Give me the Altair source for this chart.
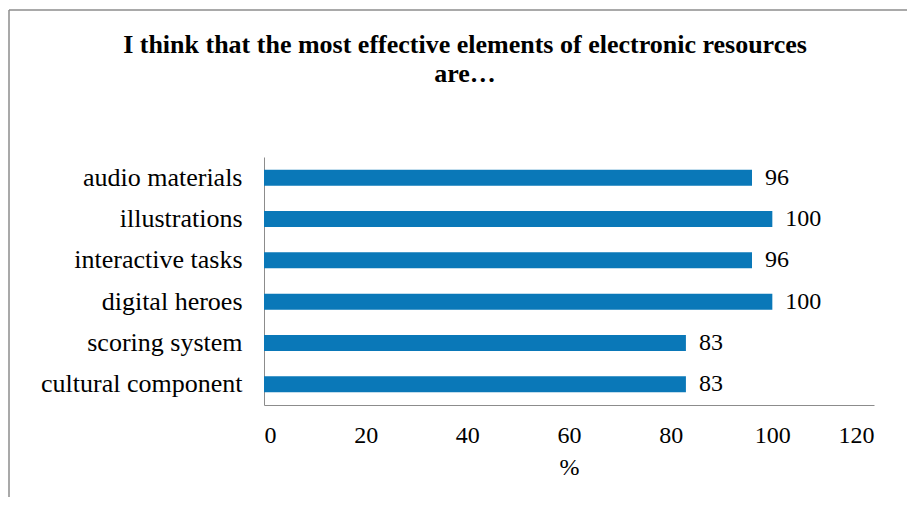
import altair as alt
import pandas as pd

title_lines = ["I think that the most effective elements of electronic resources", "are…"]
categories = ["audio materials", "illustrations", "interactive tasks",
              "digital heroes", "scoring system", "cultural component"]
values = [96, 100, 96, 100, 83, 83]
x_ticks = [0, 20, 40, 60, 80, 100, 120]

df = pd.DataFrame({"element": categories, "pct": values})

W, H = 610, 248
PL, PT = 256, 149
PR = 915 - 16 - PL - W
PB = 505 - 16 - PT - H
SERIF = "Liberation Serif"

base = alt.Chart(df)

bars = base.mark_bar(color="#0A78B8", size=16).encode(
    x=alt.X("pct:Q", scale=alt.Scale(domain=[0, 120]),
            axis=alt.Axis(values=x_ticks, title="%", grid=False, ticks=False,
                          domainColor="#8c8c8c", labelFontSize=24, labelPadding=18,
                          labelFont=SERIF, titleFont=SERIF,
                          titleFontSize=24, titleFontWeight="normal", titlePadding=8,
                          titleColor="#000", labelColor="#000")),
    y=alt.Y("element:N", sort=categories,
            axis=alt.Axis(title=None, ticks=False, domainColor="#8c8c8c",
                          labelFontSize=26, labelPadding=22, labelFont=SERIF,
                          labelColor="#000", labelLimit=400)),
)

labels = base.mark_text(align="left", baseline="middle", dx=13,
                        font=SERIF, fontSize=24, color="#000").encode(
    x="pct:Q", y=alt.Y("element:N", sort=categories), text="pct:Q")

frame_df = pd.DataFrame({"a": [0]})
frame_left = alt.Chart(frame_df).mark_rule(color="#8c8c8c", strokeWidth=1.5).encode(
    x=alt.value(-PL + 1), y=alt.value(-PT + 2), y2=alt.value(H + PB + 10))
frame_top = alt.Chart(frame_df).mark_rule(color="#8c8c8c", strokeWidth=1.5).encode(
    x=alt.value(-PL + 1), x2=alt.value(W + PR + 10), y=alt.value(-PT + 2))

title = alt.Chart(frame_df).mark_text(
    text=title_lines, font=SERIF, fontSize=26, fontWeight="bold", color="#000",
    align="center", baseline="alphabetic", lineHeight=29).encode(
    x=alt.value(201), y=alt.value(-104))

chart = alt.layer(frame_left, frame_top, title, bars, labels).properties(
    width=W, height=H,
    autosize=alt.AutoSizeParams(type="none"),
    padding={"left": PL, "top": PT, "right": PR, "bottom": PB},
    background="white",
).configure_view(stroke=None)

chart.save("out.html", embed_options={"renderer": "svg", "actions": False})
